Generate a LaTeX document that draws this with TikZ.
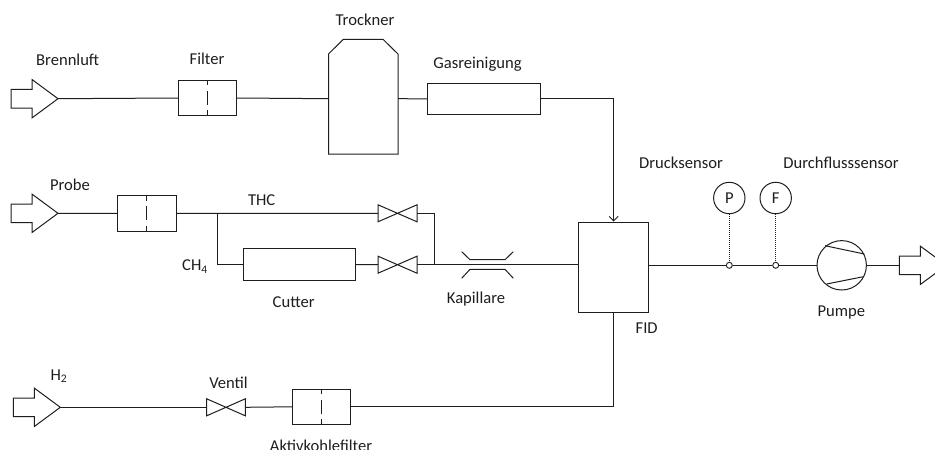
\documentclass[tikz,border=0pt]{standalone}
\usepackage{fontspec}
\setmainfont{Carlito}
\usetikzlibrary{arrows.meta}
\definecolor{ink}{HTML}{1E1E1E}
\tikzset{
  x=1pt,y=-1pt,
  lbl/.style={font=\fontsize{16.6}{18}\selectfont,text=ink,inner sep=0pt},
  box/.style={rectangle,draw=ink,line width=1pt,inner sep=0pt,minimum width=#1},
  pipe/.style={line width=1pt,draw=ink},
  sense/.style={line width=1pt,draw=ink,dash pattern=on 1pt off 1pt},
  dot/.style={circle,draw=ink,fill=white,line width=.9pt,inner sep=0pt,minimum size=6pt},
  gauge/.style={circle,draw=ink,line width=1pt,inner sep=0pt,minimum size=31.4pt},
  flowtip/.style={-{Straight Barb[length=4.5pt,width=9pt,line width=.9pt]}},
}
% name, x of the tail, y of the centre line
\newcommand{\inarrow}[3]{%
  \draw[pipe,line join=miter] (#2,#3-9.3) -- (#2+21,#3-9.3) -- (#2+21,#3-19.2) -- (#2+47,#3) -- (#2+21,#3+19.2) -- (#2+21,#3+9.3) -- (#2,#3+9.3) -- cycle;
  \coordinate (#1) at (#2+47,#3);
  \coordinate (#1t) at (#2,#3);}
% name, x left, x right, centre y
\newcommand{\valve}[4]{%
  \draw[pipe,line join=miter] (#2,#4-8.5) -- (#3,#4+8.5) -- (#3,#4-8.5) -- (#2,#4+8.5) -- cycle;
  \coordinate (#1w) at (#2,#4);
  \coordinate (#1e) at (#3,#4);}
% name, x left, x right, y top, y bottom
\newcommand{\filt}[5]{%
  \draw[pipe] (#2,#4) rectangle (#3,#5);
  \draw[pipe,dash pattern=on 5pt off 5.7pt on 13.6pt off 5.7pt on 6pt off 1pt] ({(#2+#3)/2},#4) -- ({(#2+#3)/2},#5);
  \coordinate (#1w) at (#2,{(#4+#5)/2});
  \coordinate (#1e) at (#3,{(#4+#5)/2});}
\begin{document}
\begin{tikzpicture}
\useasboundingbox (0,0) rectangle (935,450);
\clip (0,0) rectangle (935,450);

% sources
\inarrow{brenn}{11}{98.7}
\inarrow{probe}{11}{213.3}
\inarrow{wasser}{13.3}{407.3}
\inarrow{aus}{899.3}{265.3}

% filters
\filt{fa}{178}{236.7}{80.3}{115.7}
\filt{fb}{117.5}{176}{195.5}{231}
\filt{fc}{292.3}{350.7}{389.3}{424.3}

% dryer
\draw[pipe,line join=miter] (328.5,154) -- (328.5,54) -- (343.3,39.3) -- (383,39.3) -- (398,54) -- (398,154) -- cycle;
\coordinate (trw) at (328.5,98.7);
\coordinate (tre) at (398,98.7);

% boxes
\node[box=112.3,minimum height=31.7] (gas) at (483.85,98.85) {};
\node[box=112.3,minimum height=32] (cut) at (299.15,264.5) {};
\node[box=70,minimum height=90.7] (fid) at (613.7,267.35) {};

% valves
\valve{va}{378}{417}{213.3}
\valve{vb}{378}{417}{264.7}
\valve{vc}{206.7}{245.3}{407.3}

% capillary
\draw[pipe] (461.7,251.7) -- (470,259.7) -- (505,259.7) -- (513.3,251.7);
\draw[pipe] (461.7,278.3) -- (470,269.3) -- (505,269.3) -- (513.3,278.3);

% sensors
\node[gauge] (p) at (729.3,198) {};
\node[gauge] (f) at (775.7,198) {};
\node[lbl] (pl) at (p) {P};
\node[lbl] (fl) at (f) {F};
\node[dot] (dp) at (729.3,265.3) {};
\node[dot] (df) at (775.7,265.3) {};

% pump
\node[circle,draw=ink,line width=1pt,inner sep=0pt,minimum size=49.4pt] (pump) at (841.7,265.3) {};
\draw[pipe] (825,245.7) -- (864.3,254);
\draw[pipe] (826.7,284) -- (863.3,276.7);

% connectors
\draw[pipe] (brenn) -- (faw);
\draw[pipe] (fae) -- (trw);
\draw[pipe] (tre) -- (gas.west);
\draw[pipe,flowtip] (gas.east) -| (fid.north);
\draw[pipe] (probe) -- (fbw);
\draw[pipe] (fbe) -- (vaw);
\coordinate (br) at (217.7,213.3);
\coordinate (mi) at (434,264.7);
\draw[pipe] (br) |- (cut.west);
\draw[pipe] (cut.east) -- (vbw);
\draw[pipe] (vae) -| (mi);
\draw[pipe] (vbe) -- (fid.west |- mi);
\draw[pipe] (wasser) -- (vcw);
\draw[pipe] (vce) -- (fcw);
\draw[pipe] (fce) -| (fid.south);
\draw[pipe] (fid.east |- dp) -- (dp);
\draw[pipe] (dp) -- (df);
\draw[pipe] (df) -- (pump.west);
\draw[pipe] (pump.east) -- (aust);
\draw[sense] (p) -- (dp);
\draw[sense] (f) -- (df);

% labels
\node[lbl] (l1) at (67.7,60) {Brennluft};
\node[lbl] (l2) at (207,59) {Filter};
\node[lbl] (l3) at (365,20) {Trockner};
\node[lbl] (l4) at (477.5,64) {Gasreinigung};
\node[lbl] (l5) at (70,185) {Probe};
\node[lbl] (l6) at (261.7,200) {THC};
\node[lbl] (l7) at (195,266.5) {CH\textsubscript{4}};
\node[lbl] (l8) at (293.7,301.7) {Cutter};
\node[lbl] (l9) at (476,299) {Kapillare};
\node[lbl] (l10) at (59,376) {H\textsubscript{2}};
\node[lbl] (l11) at (228.5,383) {Ventil};
\node[lbl] (l12) at (321,446) {Aktivkohlefilter};
\node[lbl] (l13) at (681,163) {Drucksensor};
\node[lbl] (l14) at (841,163) {Durchflusssensor};
\node[lbl] (l15) at (841.3,313) {Pumpe};
\node[lbl] (l16) at (646.7,328) {FID};
\end{tikzpicture}
\end{document}
